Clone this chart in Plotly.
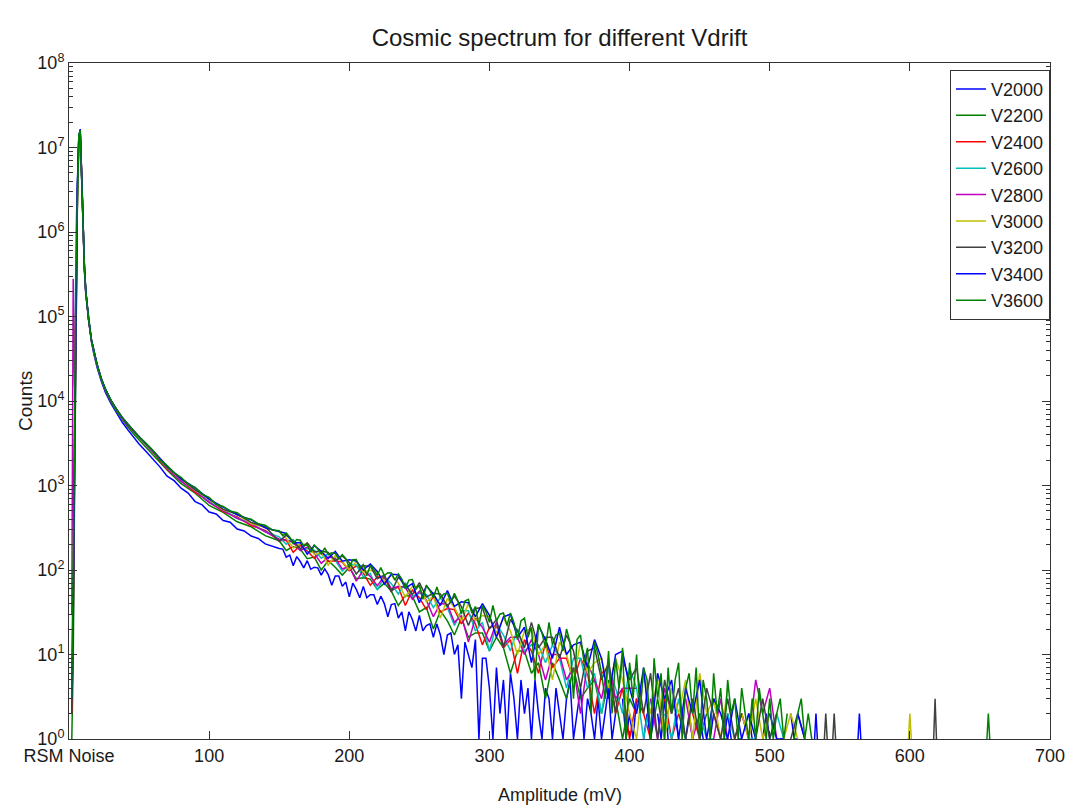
import plotly.graph_objects as go

# ---------------- data ----------------
SERIES_NAMES = ["V2000", "V2200", "V2400", "V2600", "V2800", "V3000", "V3200", "V3400", "V3600"]
SERIES_COLORS = ["#0000FF", "#008000", "#FF0000", "#00BFBF", "#BF00BF",
                 "#BFBF00", "#404040", "#0000FF", "#008000"]

# amplitude bins (mV)
AMP_HEAD = [2, 3, 4, 5, 6, 7, 8, 9, 10, 11, 12, 14, 16, 18, 20, 23, 26, 30, 34, 38, 42, 46, 50, 55, 60]
AMP_FINE = AMP_HEAD + list(range(65, 150, 5)) + [150 + 2.5 * i for i in range(157)]
AMP_COARSE = AMP_HEAD + list(range(70, 150, 10)) + list(range(150, 545, 5))

X_TICK_VALS = [0, 100, 200, 300, 400, 500, 600, 700]
X_TICK_TEXT = ["RSM Noise", "100", "200", "300", "400", "500", "600", "700"]
Y_TICK_VALS = [1, 10, 100, 1e3, 1e4, 1e5, 1e6, 1e7, 1e8]
Y_TICK_TEXT = ["10<sup>%d</sup>" % i for i in range(9)]

# counts per bin (None = empty bin)
V2000_COUNTS = [2, 20, 1500, 1.2e5, 2.5e6, 1.1e7, 1.4e7, 4.5e6, 9e5, 3.5e5,
                1.8e5, 8.6e4, 5.0e4, 3.45e4, 2.5e4, 1.72e4, 1.26e4, 9300, 7100, 5600,
                4550, 3750, 3100, 2520, 2050,
                1650, 1290, 1140, 930, 815, 645, 590, 485, 460, 385,
                368, 305, 290, 252, 236, 204, 190,
                180, 177, 142, 150, 112, 144, 126, 106, 129, 102,
                108, 106, 87, 103, 88, 66, 85, 85, 64, 72,
                48, 70, 59, 47, 64, 47, 51, 51, 39, 49,
                40, 28, 39, 40, 27, 32, 19, 32, 26, 19,
                29, 19, 22, 23, 16, 23, 17, 10, 17, 18,
                10, 13, 3, 14, 10, 7, 15, 1, 9, 9,
                4,
                1, 7, 2, 5, 1, 6, 3, 1, 5, 2,
                4, 1, 5, 2, 1, 4, 3, 1, 4, 2,
                1, 3, 5, 1, 2, 4, 1, 3, 2, 1,
                3, 1, 2, 4, 1, 2, None, 3, 1, 2,
                1, 3, None, 1, 2, 1, None, 2, 1, 3,
                1, None, 2, 1, None, 1, 2, 1, None, 2,
                1, None, 1, 2, None, None, 1, 2, 1, None,
                1, 1, None, 2, 1, None, None, 1, 2, 1,
                None, None, 1, 1, None, 2, 1, 1]
V2000_EXTRA_AMP = [563, 564, 565]
V2000_EXTRA_COUNTS = [1, 2, 1]

V2200_COUNTS = [1, 8, 900, 1.0e5, 2.8e6, 1.2e7, 1.5e7, 4.8e6, 9.5e5, 3.7e5,
                1.9e5, 9.0e4, 5.2e4, 3.6e4, 2.65e4, 1.8e4, 1.33e4, 9700, 7500, 6000,
                4900, 4100, 3450, 2800, 2300,
                1530, 1050, 810, 580, 480, 372, 325, 255,
                222, 170, 189, 177, 136, 142, 100, 129, 108, 87,
                107, 79, 81, 78, 59, 70, 56, 38, 50, 49,
                32, 36, 20, 33, 25, 17, 27, 16, 18, 18,
                11, 16, 12, 6, 11, 11, 6, 8, 3, 8,
                5, 3, 7, 3, 4, 5, 2, 5, 3, 1,
                3,
                2, None, 1, 3, 1, None, 2, 1, None, 1, 2, None, 1, 1]
V2200_EXTRA_AMP = []
V2200_EXTRA_COUNTS = []

V2400_COUNTS = [2, 25, 2500, 2.0e5, 3.5e6, 1.3e7, 1.55e7, 5.0e6, 1.0e6, 3.8e5,
                1.95e5, 9.1e4, 5.25e4, 3.65e4, 2.68e4, 1.83e4, 1.35e4, 9950, 7750, 6250,
                5150, 4380, 3650, 3050, 2480,
                1560, 1150, 830, 650, 490, 425, 335, 295,
                223, 225, 162, 195, 168, 138, 164, 126, 129, 124,
                98, 112, 92, 66, 83, 81, 57, 63, 38, 58,
                47, 34, 49, 32, 35, 34, 23, 31, 23, 13,
                21, 22, 12, 15, 6, 15, 11, 6, 14, 7,
                9, 9, 5, 9, 6, 2, 6, 7, 2, 4,
                1,
                3, 2, 1, None, 3, 1, 2, None, 2, 1,
                None, 2, 1, None, 1, 2, 1, None, 1, 2]
V2400_EXTRA_AMP = []
V2400_EXTRA_COUNTS = []

V2600_COUNTS = [4, 120, 8000, 1.0e6, 5e6, 1.35e7, 1.5e7, 4.6e6, 9.8e5, 3.8e5,
                1.95e5, 9.1e4, 5.25e4, 3.66e4, 2.68e4, 1.83e4, 1.36e4, 1.0e4, 7780, 6280,
                5180, 4400, 3680, 3070, 2500,
                1610, 1120, 880, 635, 520, 410, 360, 283,
                247, 202, 229, 176, 179, 172, 138, 156, 130, 97,
                118, 115, 83, 91, 58, 83, 69, 52, 71, 49,
                53, 51, 36, 47, 36, 22, 33, 33, 19, 24,
                11, 23, 17, 11, 20, 11, 13, 13, 8, 13,
                9, 4, 9, 9, 4, 6, 2, 7, 4, 2,
                7,
                4, 1, 3, None, 2, 1, 3, 1, None, 2,
                1, 1, None, 2, 1, None, 1, 1, None, 1,
                2, 1]
V2600_EXTRA_AMP = []
V2600_EXTRA_COUNTS = []

V2800_COUNTS = [30, 2.8e5, 1.5e4, 2.5e5, 2.5e6, 1.1e7, 1.45e7, 4.7e6, 9.6e5, 3.7e5,
                1.92e5, 9.0e4, 5.2e4, 3.62e4, 2.66e4, 1.82e4, 1.34e4, 9900, 7700, 6200,
                5120, 4350, 3620, 3030, 2470,
                1580, 1120, 860, 628, 505, 408, 350, 281,
                231, 228, 212, 170, 187, 158, 120, 142, 138, 103,
                110, 74, 100, 84, 65, 85, 60, 64, 62, 45,
                56, 44, 28, 40, 39, 24, 29, 14, 27, 21,
                14, 24, 13, 16, 16, 10, 15, 10, 5, 10,
                10, 5, 7, 2, 8, 5, 3, 8, 3, 4,
                4,
                4, None, 3, 1, 4, 2, None, 3, 1, 2,
                None, 1, 3, 1, None, 2, 1, 5, 2, 4,
                1]
V2800_EXTRA_AMP = []
V2800_EXTRA_COUNTS = []

V3000_COUNTS = [3, 50, 3000, 3e5, 2.4e6, 1.25e7, 1.55e7, 4.9e6, 1.0e6, 3.8e5,
                1.97e5, 9.15e4, 5.27e4, 3.67e4, 2.69e4, 1.84e4, 1.37e4, 1.01e4, 7820, 6320,
                5230, 4440, 3700, 3100, 2540,
                1620, 1190, 875, 690, 515, 455, 355, 318,
                283, 238, 182, 205, 199, 153, 161, 114, 148, 126,
                101, 126, 94, 99, 94, 73, 87, 70, 48, 64,
                64, 42, 49, 27, 46, 36, 25, 40, 25, 29,
                28, 18, 27, 19, 10, 19, 20, 10, 13, 5,
                14, 10, 5, 14, 6, 8, 9, 4, 9, 5,
                2,
                1, 6, 2, 5, 1, 4, 2, 5, 1, 6,
                2, 3, 1, 4, None, 2, 1, 3, 1, 2,
                None, 1, 2, 1]
V3000_EXTRA_AMP = [599, 600, 601]
V3000_EXTRA_COUNTS = [1, 2, 1]

V3200_COUNTS = [2, 30, 2000, 2.2e5, 3.2e6, 1.3e7, 1.6e7, 5e6, 1.0e6, 3.85e5,
                1.98e5, 9.2e4, 5.3e4, 3.68e4, 2.7e4, 1.85e4, 1.37e4, 1.01e4, 7850, 6350,
                5250, 4460, 3720, 3120, 2560,
                1640, 1210, 890, 700, 522, 462, 366, 325,
                217, 259, 219, 178, 210, 164, 168, 161, 129, 147,
                123, 90, 112, 111, 79, 87, 55, 82, 67, 51,
                71, 48, 53, 52, 37, 49, 37, 22, 35, 36,
                20, 26, 12, 26, 19, 12, 24, 12, 16, 16,
                9, 17, 11, 4, 11, 12, 5, 8, 2, 9,
                5,
                7, 2, 6, 1, 5, 2, 4, 1, 3, 1,
                4, 2, 1, 3, 1, 2, None, 1, 3, 1,
                2, None, 1, 2, 1]
V3200_EXTRA_AMP = [539, 540, 541, 543, 545, 546, 547, 580, 617, 618, 619]
V3200_EXTRA_COUNTS = [1, 2, 1, None, 1, 2, 1, None, 1, 3, 1]

V3400_COUNTS = [3, 45, 3500, 3e5, 3.8e6, 1.35e7, 1.65e7, 5.1e6, 1.02e6, 3.9e5,
                2.0e5, 9.3e4, 5.35e4, 3.7e4, 2.72e4, 1.86e4, 1.38e4, 1.02e4, 7880, 6380,
                5280, 4480, 3740, 3140, 2580,
                1700, 1200, 935, 690, 555, 450, 392, 315,
                285, 271, 208, 212, 154, 195, 167, 137, 166, 127,
                132, 128, 100, 118, 96, 68, 89, 88, 61, 69,
                41, 65, 52, 38, 57, 37, 42, 41, 28, 40,
                29, 16, 28, 30, 16, 21, 8, 22, 15, 9,
                21, 10, 13, 14, 7, 15, 9, 3, 10, 11,
                4,
                2, 7, 1, 6, 3, 5, 1, 4, 2, 5,
                1, 3, 2, 1, 3, 1, 2, 1, None, 2,
                1, 1, None, 2, 1]
V3400_EXTRA_AMP = [532, 533, 534]
V3400_EXTRA_COUNTS = [1, 2, 1]

V3600_COUNTS = [3, 60, 4000, 3.5e5, 4e6, 1.4e7, 1.6e7, 5e6, 1.0e6, 3.8e5,
                2.0e5, 9.2e4, 5.3e4, 3.7e4, 2.7e4, 1.85e4, 1.38e4, 1.02e4, 7900, 6400,
                5300, 4500, 3750, 3150, 2600,
                2010, 1720, 1410, 1250, 1040, 950, 790, 725, 600, 565,
                500, 476, 415, 398, 352, 338, 298,
                291, 254, 273, 244, 205, 229, 225, 191, 200, 162,
                197, 177, 154, 183, 152, 160, 157, 136, 152, 136,
                108, 132, 133, 106, 116, 86, 114, 101, 86, 107,
                86, 93, 92, 76, 90, 78, 60, 76, 77, 59,
                66, 45, 66, 57, 47, 63, 47, 52, 53, 41,
                53, 43, 30, 43, 45, 31, 37, 22, 38, 32,
                24, 38, 25, 30, 31, 22, 31, 24, 15, 25,
                27, 16, 21, 5, 23, 18, 12, 24, 13, 17,
                18, 11, 20, 14, 3, 15, 17, 8, 12, 2,
                14, 10, 6,
                3, 11, 2, 9, 4, 12, 1, 8, 3, 10,
                2, 7, 5, 1, 9, 3, 6, 1, 7, 2,
                5, 8, 1, 4, 6, 2, 7, 1, 5, 3,
                1, 6, 2, 4, 1, 5, 2, 3, 1, 4,
                2, 1, 3, 1, 4, 2, 1, 3, 1, 2,
                3, 1, 2, None, 1, 2, 3, 1, 2, 1]
V3600_EXTRA_AMP = [655, 656, 657]
V3600_EXTRA_COUNTS = [1, 2, 1]

SERIES = [
    (V2000_COUNTS, AMP_FINE, V2000_EXTRA_AMP, V2000_EXTRA_COUNTS),
    (V2200_COUNTS, AMP_COARSE, V2200_EXTRA_AMP, V2200_EXTRA_COUNTS),
    (V2400_COUNTS, AMP_COARSE, V2400_EXTRA_AMP, V2400_EXTRA_COUNTS),
    (V2600_COUNTS, AMP_COARSE, V2600_EXTRA_AMP, V2600_EXTRA_COUNTS),
    (V2800_COUNTS, AMP_COARSE, V2800_EXTRA_AMP, V2800_EXTRA_COUNTS),
    (V3000_COUNTS, AMP_COARSE, V3000_EXTRA_AMP, V3000_EXTRA_COUNTS),
    (V3200_COUNTS, AMP_COARSE, V3200_EXTRA_AMP, V3200_EXTRA_COUNTS),
    (V3400_COUNTS, AMP_COARSE, V3400_EXTRA_AMP, V3400_EXTRA_COUNTS),
    (V3600_COUNTS, AMP_FINE, V3600_EXTRA_AMP, V3600_EXTRA_COUNTS),
]

FONT = "Arial, Liberation Sans, Helvetica, sans-serif"
TXT = "#1a1a1a"
AX = "#333333"

fig = go.Figure()
for name, color, (counts, grid, ex_amp, ex_cnt) in zip(SERIES_NAMES, SERIES_COLORS, SERIES):
    if len(counts) > len(grid):
        raise ValueError("too many counts for " + name)
    x = list(grid[:len(counts)])
    y = list(counts)
    if ex_amp:
        x = x + [None] + list(ex_amp)
        y = y + [None] + list(ex_cnt)
    fig.add_trace(go.Scatter(x=x, y=y, mode="lines", name=name,
                             line=dict(color=color, width=1.5), connectgaps=False))

minor_vals = [m * 10 ** d for d in range(8) for m in range(2, 10)]

fig.update_layout(
    width=1069, height=808,
    margin=dict(l=69, r=19, t=63, b=69, autoexpand=False),
    paper_bgcolor="white", plot_bgcolor="white",
    font=dict(family=FONT, size=18, color=TXT),
    title=dict(text="Cosmic spectrum for different Vdrift", x=0.5, xref="paper",
               xanchor="center", y=1 - 38 / 808, yref="container", yanchor="middle",
               font=dict(size=24, family=FONT, color=TXT)),
    showlegend=True,
    legend=dict(x=1, xanchor="right", y=0.99, yanchor="top",
                bgcolor="white", bordercolor=AX, borderwidth=1,
                font=dict(size=18, family=FONT, color=TXT),
                itemwidth=30, tracegroupgap=0),
    annotations=[
        dict(text="Amplitude (mV)", xref="paper", yref="paper", x=0.5, y=-(795 - 739) / 676,
             xanchor="center", yanchor="middle", showarrow=False,
             font=dict(size=18, family=FONT, color=TXT)),
        dict(text="Counts", xref="paper", yref="paper", x=-(69 - 25) / 981, y=0.5,
             xanchor="center", yanchor="middle", textangle=-90, showarrow=False,
             font=dict(size=19, family=FONT, color=TXT)),
    ],
)

fig.update_xaxes(
    range=[0, 700], tickmode="array", tickvals=X_TICK_VALS, ticktext=X_TICK_TEXT,
    ticks="inside", ticklen=8, tickcolor=AX, tickwidth=1,
    tickfont=dict(size=18, family=FONT, color=TXT),
    showline=True, linecolor=AX, linewidth=1, mirror="ticks",
    showgrid=False, zeroline=False, automargin=False,
)
fig.update_yaxes(
    type="log", range=[0, 8], tickmode="array", tickvals=Y_TICK_VALS, ticktext=Y_TICK_TEXT,
    ticks="inside", ticklen=8, tickcolor=AX, tickwidth=1,
    tickfont=dict(size=18, family=FONT, color=TXT),
    minor=dict(ticks="inside", ticklen=4, tickcolor=AX, tickmode="array",
               tickvals=minor_vals, showgrid=False),
    showline=True, linecolor=AX, linewidth=1, mirror="ticks",
    showgrid=False, zeroline=False, automargin=False,
)

fig.write_html("out.html")
